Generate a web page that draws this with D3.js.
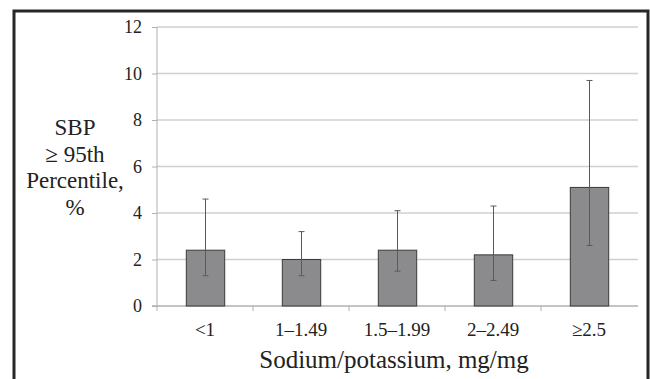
<!DOCTYPE html>
<html lang="en">
  <head>
    <meta charset="UTF-8" />
    <title>SBP by sodium/potassium</title>
    <script src="https://cdn.jsdelivr.net/npm/d3@7"></script>
    <style>
      body { margin: 0; background: #fff; }
      svg text { font-family: 'Liberation Serif', 'DejaVu Serif', Times, serif; }
    </style>
  </head>
  <body>
    <svg width="650" height="379"></svg>
  </body>

  <script>
    // data
    var categories = ['<1', '1–1.49', '1.5–1.99', '2–2.49', '≥2.5'];
    var values = [2.4, 2.0, 2.4, 2.2, 5.1];
    var lower = [1.3, 1.3, 1.5, 1.1, 2.6];
    var upper = [4.6, 3.2, 4.1, 4.3, 9.7];
    var yTicks = [0, 2, 4, 6, 8, 10, 12];
    var yTitle = ['SBP', '≥ 95th', 'Percentile,', '%'];

    var svg = d3.select('svg');

    // outer frame (bottom edge runs off the picture)
    svg.append('path')
      .attr('d', 'M14,379V11H648V379')
      .attr('fill', 'none')
      .attr('stroke', '#262626')
      .attr('stroke-width', 3);

    var plotL = 157, plotR = 637, plotT = 27, plotB = 306;

    var x = d3.scaleBand().domain(categories).range([plotL, plotR]).paddingInner(0.6).paddingOuter(0.3);
    var xb = d3.scaleBand().domain(categories).range([plotL, plotR]); // for boundary ticks
    var y = d3.scaleLinear().domain([0, 12]).range([plotB, plotT]);

    // gridlines
    svg.append('g').selectAll('line').data(yTicks.slice(1)).enter().append('line')
      .attr('x1', plotL).attr('x2', plotR + 1)
      .attr('y1', function (d) { return y(d); })
      .attr('y2', function (d) { return y(d); })
      .attr('stroke', '#cfcfcf').attr('stroke-width', 1.5);

    // y axis
    var axisY = d3.axisLeft(y).tickValues(yTicks).tickSize(5).tickPadding(10);
    var gy = svg.append('g').attr('transform', 'translate(' + plotL + ',0)').call(axisY);
    gy.attr('font-family', null).attr('font-size', null);
    gy.select('.domain').attr('stroke', '#b0b0b0').attr('d', 'M0,' + plotT + 'V' + (plotB + 5));
    gy.selectAll('.tick line').attr('stroke', '#b0b0b0');
    gy.selectAll('text').attr('fill', '#222').style('font-size', '18px');

    // x axis
    svg.append('line')
      .attr('x1', plotL - 5).attr('x2', plotR + 1)
      .attr('y1', plotB).attr('y2', plotB)
      .attr('stroke', '#b0b0b0').attr('stroke-width', 1.5);
    svg.append('g').selectAll('line').data(categories.slice(1)).enter().append('line')
      .attr('x1', function (d) { return xb(d); })
      .attr('x2', function (d) { return xb(d); })
      .attr('y1', plotB).attr('y2', plotB + 5)
      .attr('stroke', '#b0b0b0');
    svg.append('g').selectAll('text').data(categories).enter().append('text')
      .attr('x', function (d) { return xb(d) + xb.bandwidth() / 2; })
      .attr('y', 336)
      .attr('text-anchor', 'middle')
      .attr('fill', '#222').style('font-size', '19px')
      .text(function (d) { return d; });

    // bars
    svg.append('g').selectAll('rect').data(values).enter().append('rect')
      .attr('x', function (d, i) { return x(categories[i]) + 0.5; })
      .attr('y', function (d) { return y(d); })
      .attr('width', x.bandwidth())
      .attr('height', function (d) { return plotB - y(d); })
      .attr('fill', '#8b8b8e')
      .attr('stroke', '#3a3a3a')
      .attr('stroke-width', 1);

    // error bars
    var eg = svg.append('g').selectAll('g').data(values).enter().append('g')
      .attr('stroke', '#5a5a5a').attr('stroke-width', 1);
    eg.append('line')
      .attr('x1', function (d, i) { return x(categories[i]) + x.bandwidth() / 2 + 0.5; })
      .attr('x2', function (d, i) { return x(categories[i]) + x.bandwidth() / 2 + 0.5; })
      .attr('y1', function (d, i) { return y(lower[i]); })
      .attr('y2', function (d, i) { return y(upper[i]); });
    [lower, upper].forEach(function (arr) {
      eg.append('line')
        .attr('x1', function (d, i) { return x(categories[i]) + x.bandwidth() / 2 - 2.5; })
        .attr('x2', function (d, i) { return x(categories[i]) + x.bandwidth() / 2 + 3.5; })
        .attr('y1', function (d, i) { return y(arr[i]); })
        .attr('y2', function (d, i) { return y(arr[i]); });
    });

    // axis titles
    svg.append('text')
      .attr('x', 394).attr('y', 368)
      .attr('text-anchor', 'middle')
      .attr('fill', '#222').style('font-size', '25px')
      .text('Sodium/potassium, mg/mg');

    svg.append('g').selectAll('text').data(yTitle).enter().append('text')
      .attr('x', 75)
      .attr('y', function (d, i) { return 135 + i * 26.7; })
      .attr('text-anchor', 'middle')
      .attr('fill', '#222').style('font-size', '23px')
      .text(function (d) { return d; });
  </script>
</html>
